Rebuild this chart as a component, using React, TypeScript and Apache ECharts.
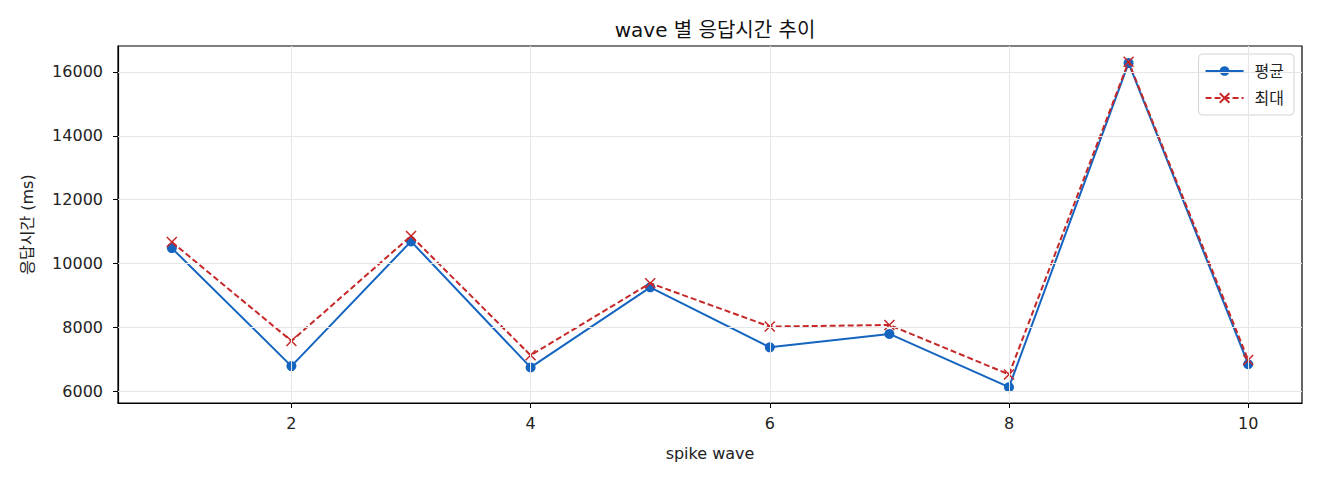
import React from "react";
import * as echarts from "echarts";

const waves = [1, 2, 3, 4, 5, 6, 7, 8, 9, 10];
const avgMs = [10480, 6780, 10690, 6740, 9250, 7370, 7790, 6120, 16280, 6840];
const maxMs = [10670, 7570, 10860, 7120, 9380, 8020, 8070, 6520, 16320, 6970];
const xTicks = [2, 4, 6, 8, 10];
const yTicks = [6000, 8000, 10000, 12000, 14000, 16000];

const FONT = "'DejaVu Sans', 'Noto Sans CJK KR', sans-serif";
const CROSS = "path://M0,0 L10,10 M10,0 L0,10";

export default function App() {
  const ref = React.useRef<HTMLDivElement>(null);

  React.useEffect(() => {
    document.body.style.margin = "0";
    const el = ref.current;
    if (!el) return;
    const chart = echarts.init(el, undefined, { renderer: "svg" });
    const gridLine = { color: "#e6e6e6", width: 1, type: "solid" as const };
    chart.setOption({
      animation: false,
      textStyle: { fontFamily: FONT },
      title: {
        text: "wave 별 응답시간 추이",
        left: 710,
        top: 15,
        textAlign: "center",
        textStyle: { fontSize: 20, fontWeight: "normal", color: "#111", fontFamily: FONT },
      },
      grid: { left: 118, right: 18, top: 46, bottom: 77, show: true, borderColor: "#000", borderWidth: 1.2 },
      legend: {
        orient: "vertical",
        right: 26,
        top: 54,
        padding: [9, 10, 9, 6],
        itemGap: 11,
        itemWidth: 38,
        itemHeight: 12,
        borderColor: "#d4d4d4",
        borderWidth: 1,
        borderRadius: 4,
        backgroundColor: "#fff",
        textStyle: { fontSize: 16, color: "#222", fontFamily: FONT, padding: [0, 0, 0, 6] },
        data: ["평균", "최대"],
      },
      xAxis: {
        type: "value",
        min: 0.55,
        max: 10.45,
        name: "spike wave",
        nameLocation: "middle",
        nameGap: 42,
        nameTextStyle: { fontSize: 16, color: "#222" },
        axisLine: { onZero: false, lineStyle: { color: "#000", width: 1.2 } },
        axisTick: { show: true, customValues: xTicks, length: 5, lineStyle: { color: "#000" } },
        axisLabel: { customValues: xTicks, fontSize: 16, color: "#222", margin: 12, formatter: (v: number) => String(v) },
        splitLine: { show: false },
      },
      yAxis: {
        type: "value",
        min: 5624,
        max: 16815,
        name: "응답시간 (ms)",
        nameLocation: "middle",
        nameGap: 83,
        nameTextStyle: { fontSize: 16, color: "#222" },
        axisLine: { show: true, onZero: false, lineStyle: { color: "#000", width: 1.2 } },
        axisTick: { show: true, customValues: yTicks, length: 5, lineStyle: { color: "#000" } },
        axisLabel: { customValues: yTicks, fontSize: 16, color: "#222", margin: 15, formatter: (v: number) => String(v) },
        splitLine: { show: false },
      },
      series: [
        {
          type: "line",
          name: "grid",
          data: [],
          z: 1,
          silent: true,
          markLine: {
            silent: true,
            symbol: "none",
            label: { show: false },
            lineStyle: gridLine,
            data: [
              ...xTicks.map((v) => ({ xAxis: v })),
              ...yTicks.map((v) => ({ yAxis: v })),
            ],
          },
        },
        {
          type: "line",
          name: "평균",
          z: 3,
          data: waves.map((w, i) => [w, avgMs[i]]),
          symbol: "circle",
          symbolSize: 10,
          lineStyle: { color: "#1565c0", width: 2 },
          itemStyle: { color: "#1565c0" },
        },
        {
          type: "line",
          name: "최대",
          z: 4,
          data: waves.map((w, i) => [w, maxMs[i]]),
          symbol: CROSS,
          symbolSize: 10,
          lineStyle: { color: "#c62828", width: 2, type: [6, 3] },
          itemStyle: { color: "#c62828", borderColor: "#c62828", borderWidth: 1.5 },
        },
      ],
    });
    return () => chart.dispose();
  }, []);

  return <div ref={ref} style={{ width: 1320, height: 480 }} />;
}
